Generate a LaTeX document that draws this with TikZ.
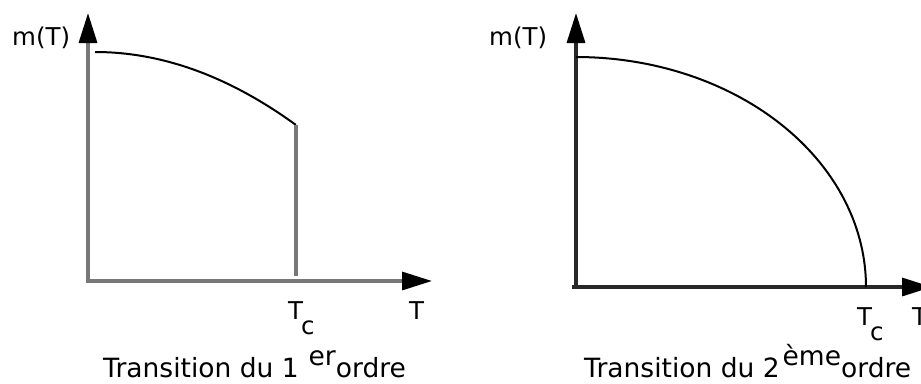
\documentclass[tikz,border=0pt]{standalone}
\usepackage{fontspec}
\setmainfont{DejaVu Sans}
\usetikzlibrary{arrows.meta,positioning}
\definecolor{gris}{RGB}{120,120,120}
\definecolor{grisfonce}{RGB}{40,40,40}
\tikzset{
  axe/.style={line width=3.2pt,-{Triangle[length=30pt,width=18pt,color=black]}},
  courbe/.style={black,line width=2pt},
  lab/.style={font=\fontsize{24.5}{24.5}\selectfont,inner sep=0pt,anchor=base west},
  legende/.style={font=\fontsize{26.5}{26.5}\selectfont,inner sep=0pt,anchor=base west}
}

\begin{document}
\begin{tikzpicture}[x=1pt,y=-1pt]
\useasboundingbox (0,0) rectangle (921,383);

% premier ordre
\coordinate (O1) at (88,281);
\coordinate (Y1) at (88,13);
\coordinate (X1) at (432,281);
\coordinate (S1) at (296,125);
\coordinate (B1) at (296,276);

\draw[axe,gris] (88,283)--(Y1);
\draw[axe,gris] (O1)--(X1);
\draw[courbe] plot[domain=0:1,smooth,samples=60] ({95+201*\x},{52+73*\x*\x});
\draw[gris,line width=3.2pt] (S1)--(B1);

\node[lab] (mTa) at (12,45) {m(T)};
\node[lab] (Tca) at (288,319) {T\kern-2pt\raisebox{-15pt}{c}};
\node[lab] (Ta) at (409,319) {T};
\node[legende] (legA) at (103,377) {Transition du 1\hspace{10pt}\raisebox{12pt}{er}ordre};

% second ordre
\coordinate (O2) at (572,287);
\coordinate (Y2) at (576,13);
\coordinate (X2) at (932,287);

\draw[axe,grisfonce] (576,289)--(Y2);
\draw[axe,grisfonce] (O2)--(X2);
\draw[courbe] plot[domain=0:90,smooth,samples=80] ({576+290*sin(\x)},{287-230*cos(\x)});

\node[lab] (mTb) at (489,45) {m(T)};
\node[lab] (Tcb) at (857,325) {T\kern-2pt\raisebox{-15pt}{c}};
\node[lab] (Tb) at (912,325) {T};
\node[legende] (legB) at (584,377) {Transition du 2\hspace{3pt}\raisebox{12pt}{ème}ordre};
\end{tikzpicture}
\end{document}
